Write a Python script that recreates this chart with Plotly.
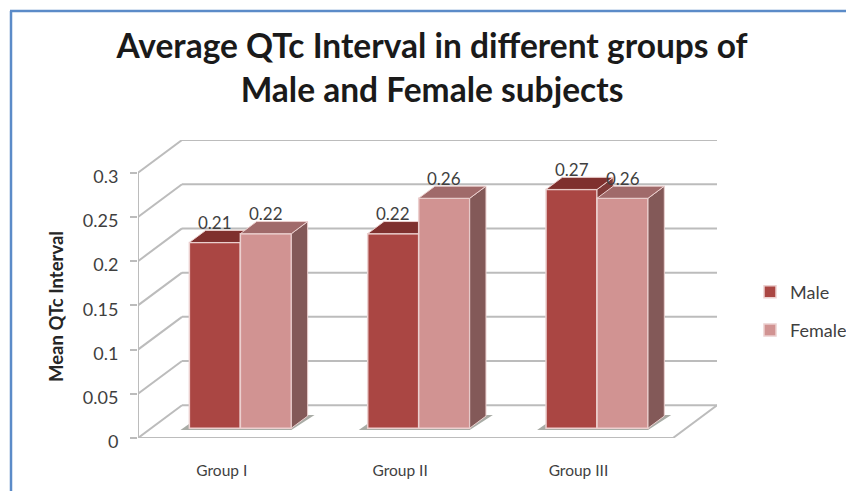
import plotly.graph_objects as go

categories = ["Group I", "Group II", "Group III"]
male = [0.21, 0.22, 0.27]
female = [0.22, 0.26, 0.26]
y_ticks = [0, 0.05, 0.1, 0.15, 0.2, 0.25, 0.3]
y_labels = ["0", "0.05", "0.1", "0.15", "0.2", "0.25", "0.3"]
title = "Average QTc Interval in different groups of<br>Male and Female subjects"
y_title = "Mean QTc Interval"

W, H = 846, 491
FONT = "Lato"
TXT = "#3f3f3f"
GRID = "#bcbcbc"

# Oblique 3D projection, in axis units
DX = 44 / 178.3     # full depth along x, in category widths
DY = 32.7 / 883.3   # full depth along y, in value units
X_MAX = len(categories) + DX
Y_MAX = 0.3 + DY
BAR_W = 0.286
BAR_DEPTH0 = 0.3
BAR_DEPTH = 0.37
LABEL_LIFT = 20

x_range = [0, X_MAX]
y_range = [0, Y_MAX]


def seg(points):
    xs, ys = [], []
    for p in points:
        xs += [p[0], p[1], None]
        ys += [p[2], p[3], None]
    return xs, ys


fig = go.Figure()

# walls and floor
wall = [(0, 0, 0, 0.3)]
for t in y_ticks:
    wall.append((0, DX, t, t + DY))
    wall.append((DX, X_MAX, t + DY, t + DY))
wall.append((0, len(categories), 0, 0))
wall.append((len(categories), X_MAX, 0, DY))
xs, ys = seg(wall)
fig.add_trace(go.Scatter(x=xs, y=ys, mode="lines", line=dict(color=GRID, width=2),
                         showlegend=False, hoverinfo="skip", xaxis="x", yaxis="y", cliponaxis=False))

# bar shadows on the floor
base = BAR_DEPTH0 * DY
for i in range(len(categories)):
    c = i + 0.5 + BAR_DEPTH0 * DX
    xl, xr = c - BAR_W - 0.05, c + BAR_W
    fig.add_trace(go.Scatter(
        x=[xl, xr, xr + 0.13, xr + 0.04, xl + 0.05],
        y=[base - 0.002, base - 0.002, base + 0.015, base + 0.015, base + 0.005],
        mode="lines", fill="toself", fillcolor="#a9aca6", line=dict(width=0),
        showlegend=False, hoverinfo="skip", xaxis="x", yaxis="y"))


def add_series(name, values, sign, front, top, side, ax):
    centers = [i + 0.5 + BAR_DEPTH0 * DX + sign * BAR_W / 2 for i in range(len(values))]
    fig.add_trace(go.Bar(
        x=centers, y=values, base=[base] * len(values), width=BAR_W, name=name,
        legendgroup=name, marker=dict(color=front, line=dict(color="#ecd0cf", width=1.5)),
        xaxis="x" + ax, yaxis="y" + ax))
    ddx, ddy = BAR_DEPTH * DX, BAR_DEPTH * DY
    for c, v in zip(centers, values):
        xl, xr = c - BAR_W / 2, c + BAR_W / 2
        yt = base + v
        fig.add_trace(go.Scatter(
            x=[xr, xr + ddx, xr + ddx, xr, xr], y=[base, base + ddy, yt + ddy, yt, base],
            mode="lines", fill="toself", fillcolor=side, line=dict(color="#ecd0cf", width=1),
            showlegend=False, hoverinfo="skip", xaxis="x" + ax, yaxis="y" + ax))
        fig.add_trace(go.Scatter(
            x=[xl, xl + ddx, xr + ddx, xr, xl], y=[yt, yt + ddy, yt + ddy, yt, yt],
            mode="lines", fill="toself", fillcolor=top, line=dict(color="#ecd0cf", width=1),
            showlegend=False, hoverinfo="skip", xaxis="x" + ax, yaxis="y" + ax))
        fig.add_annotation(x=c, y=yt, xref="x", yref="y", yshift=LABEL_LIFT, text=f"{v:.2f}",
                           showarrow=False, yanchor="middle",
                           font=dict(family=FONT, size=17, color=TXT))


add_series("Male", male, -1, "#aa4643", "#7f302e", "#7f3a38", "2")
add_series("Female", female, 1, "#d19392", "#a06a6a", "#835958", "3")

# y axis title, placed on the page
fig.add_annotation(x=56 / W, y=1 - 307 / H, xref="paper", yref="paper", text=y_title,
                   textangle=-90, showarrow=False, xanchor="center", yanchor="middle",
                   font=dict(family=FONT, size=18.5, color="#262626", weight="bold"))

# outer blue border
border = dict(type="line", xref="paper", yref="paper", line=dict(color="#5b8bc8", width=2.5))
fig.add_shape(x0=11 / W, x1=11 / W, y0=-0.05, y1=1 - 11 / H, **border)
fig.add_shape(x0=10 / W, x1=1.02, y0=1 - 11 / H, y1=1 - 11 / H, **border)

x_dom = [138 / W, 717 / W]
y_dom = [1 - 438 / H, 1 - 140 / H]
hidden = dict(visible=False, fixedrange=True)

fig.update_layout(
    width=W, height=H, autosize=False,
    margin=dict(l=0, r=0, t=0, b=0, autoexpand=False),
    paper_bgcolor="white", plot_bgcolor="rgba(0,0,0,0)",
    barmode="overlay",
    font=dict(family=FONT, color=TXT),
    title=dict(text=title, x=432 / W, xanchor="center", y=1 - 58 / H, yanchor="top",
               font=dict(family=FONT, size=33.5, color="#1a1a1a", weight="bold")),
    showlegend=True,
    legend=dict(x=750 / W, y=1 - 311 / H, xanchor="left", yanchor="middle",
                tracegroupgap=12, font=dict(family=FONT, size=18, color=TXT),
                bgcolor="rgba(0,0,0,0)"),
    xaxis=dict(domain=x_dom, range=x_range, tickvals=[0.47, 1.47, 2.47], ticktext=categories,
               showgrid=False, zeroline=False, showline=False, ticks="", ticklabelstandoff=21,
               tickfont=dict(family=FONT, size=15.5, color=TXT), fixedrange=True),
    yaxis=dict(domain=y_dom, range=y_range, tickvals=y_ticks, ticktext=y_labels,
               showgrid=False, zeroline=False, showline=False,
               ticks="outside", ticklen=7, tickwidth=2, tickcolor=GRID, ticklabelstandoff=8,
               ticklabelshift=4,
               tickfont=dict(family=FONT, size=18, color=TXT), fixedrange=True),
    xaxis2=dict(overlaying="x", range=x_range, **hidden),
    yaxis2=dict(overlaying="y", range=y_range, **hidden),
    xaxis3=dict(overlaying="x", range=x_range, **hidden),
    yaxis3=dict(overlaying="y", range=y_range, **hidden),
)

fig.write_html("out.html", config={"displayModeBar": False},
               post_script="document.body.style.margin='0';")
